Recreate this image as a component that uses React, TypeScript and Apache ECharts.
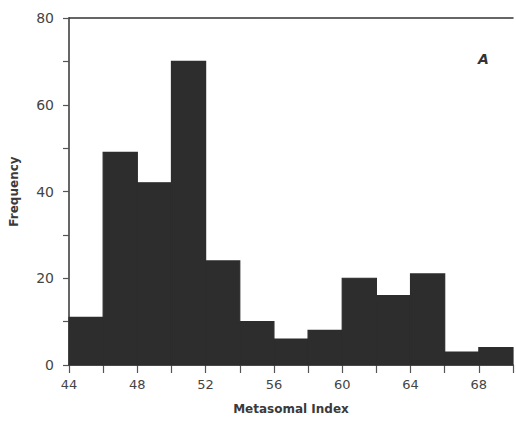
import React, { useEffect, useRef } from "react";
import * as echarts from "echarts";

const binStarts = [44, 46, 48, 50, 52, 54, 56, 58, 60, 62, 64, 66, 68];
const binWidth = 2;
const frequencies = [11, 49, 42, 70, 24, 10, 6, 8, 20, 16, 21, 3, 4];
const yTickLabels = [0, 20, 40, 60, 80];
const xTickLabels = [44, 48, 52, 56, 60, 64, 68];

export default function App() {
  const ref = useRef<HTMLDivElement>(null);
  useEffect(() => {
    if (!ref.current) return;
    const chart = echarts.init(ref.current, null, { renderer: "svg" });
    const data = binStarts.map((s, i) => [s, s + binWidth, frequencies[i]]);
    const font = "'DejaVu Sans', sans-serif";
    chart.setOption({
      animation: false,
      backgroundColor: "#ffffff",
      grid: { left: 63, right: -6, top: 18, bottom: 56, containLabel: false },
      xAxis: [
        {
          type: "value",
          min: 44,
          max: 70,
          interval: 2,
          position: "bottom",
          name: "Metasomal Index",
          nameLocation: "middle",
          nameGap: 38,
          nameTextStyle: { fontFamily: font, fontSize: 12, color: "#3a3a3a", fontWeight: "bold" },
          axisLine: { show: true, lineStyle: { color: "#333", width: 1.5 } },
          axisTick: { show: true, length: 8, lineStyle: { color: "#555", width: 1.2 } },
          axisLabel: {
            show: true,
            margin: 13,
            fontFamily: font,
            fontSize: 13,
            color: "#444",
            formatter: (v: number) => (xTickLabels.includes(v) ? String(v) : ""),
          },
          splitLine: { show: false },
        },
        {
          type: "value",
          min: 44,
          max: 70,
          position: "top",
          axisLine: { show: true, lineStyle: { color: "#333", width: 1.5 } },
          axisTick: { show: false },
          axisLabel: { show: false },
          splitLine: { show: false },
        },
      ],
      yAxis: {
        type: "value",
        min: 0,
        max: 80,
        interval: 10,
        name: "Frequency",
        nameLocation: "middle",
        nameGap: 49,
        nameTextStyle: { fontFamily: font, fontSize: 12, color: "#3a3a3a", fontWeight: "bold" },
        axisLine: { show: true, lineStyle: { color: "#333", width: 1.5 } },
        axisTick: { show: true, length: 6, lineStyle: { color: "#555", width: 1.2 } },
        axisLabel: {
          margin: 15,
          fontFamily: font,
          fontSize: 14,
          color: "#444",
          formatter: (v: number) => (yTickLabels.includes(v) ? String(v) : ""),
        },
        splitLine: { show: false },
      },
      series: [
        {
          type: "custom",
          xAxisIndex: 0,
          data,
          renderItem: (params: any, api: any) => {
            const x0 = api.value(0);
            const x1 = api.value(1);
            const v = api.value(2);
            const p0 = api.coord([x0, v]);
            const p1 = api.coord([x1, 0]);
            return {
              type: "rect",
              shape: { x: p0[0], y: p0[1], width: p1[0] - p0[0], height: p1[1] - p0[1] },
              style: { fill: "#2d2d2d", stroke: "#2d2d2d", lineWidth: 1.2 },
            };
          },
        },
      ],
      graphic: [
        {
          type: "text",
          left: 478,
          top: 52,
          style: { text: "A", fontFamily: font, fontSize: 14, fontStyle: "italic", fontWeight: "bold", fill: "#333" },
        },
      ],
    });
    return () => chart.dispose();
  }, []);
  return (
    <div
      ref={ref}
      style={{ position: "fixed", left: 0, top: 0, width: 516, height: 421, background: "#fff" }}
    />
  );
}
